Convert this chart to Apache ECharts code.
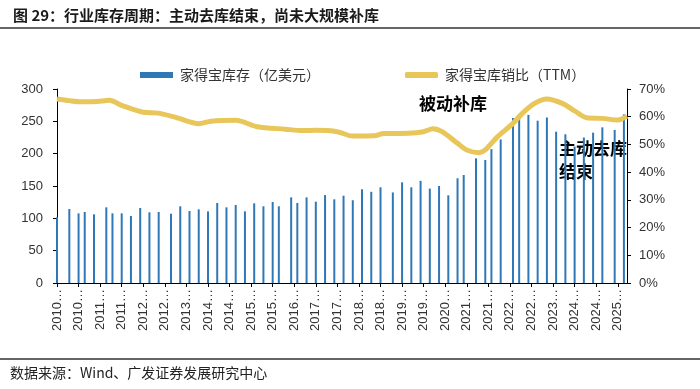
<!DOCTYPE html>
<html>
<head>
<meta charset="utf-8">
<script src="https://cdn.jsdelivr.net/npm/echarts@6/dist/echarts.min.js"></script>
<style>
html,body{margin:0;padding:0;background:#fff;}
#c{width:700px;height:389px;}
</style>
</head>
<body>
<div id="c"></div>
<script>
// Monthly category axis: 2010-01 .. 2025-06
var startYear = 2010, endYear = 2025, endMonth = 6;
var categories = [];
for (var y = startYear; y <= endYear; y++) {
  for (var m = 1; m <= 12; m++) {
    if (y === endYear && m > endMonth) break;
    categories.push(y + '-' + (m < 10 ? '0' + m : m));
  }
}

// Home Depot inventory (100M USD), report months
var invMonths = ['2010-01','2010-05','2010-08','2010-10','2011-01','2011-05','2011-07','2011-10',
  '2012-01','2012-04','2012-07','2012-10','2013-02','2013-05','2013-08','2013-11',
  '2014-02','2014-05','2014-08','2014-11','2015-02','2015-05','2015-08','2015-11',
  '2016-01','2016-05','2016-07','2016-10','2017-01','2017-04','2017-07','2017-10',
  '2018-01','2018-04','2018-07','2018-10','2019-02','2019-05','2019-08','2019-11',
  '2020-02','2020-05','2020-08','2020-11','2021-01','2021-05','2021-08','2021-10',
  '2022-01','2022-05','2022-07','2022-10','2023-01','2023-04','2023-07','2023-10',
  '2024-01','2024-04','2024-07','2024-10','2025-02','2025-05'];
var invValues = [101.5,114.4,107.7,109.8,106.2,117,107.7,107.7,
  103.6,116,109.3,109.8,107.2,118.6,111.3,113.9,
  110.8,123.7,117,120.6,110.8,123.2,118.6,125.3,
  118.6,132.5,123.7,132.5,125.8,136,129.4,135,
  128,145,141,148,140,155.7,148,158,
  146,150,135.6,162,167,192.8,190.2,207,
  222,255,258,260,251,256,234,230,
  211,225,232.5,240.7,236.6,260.8];

// Inventory-to-sales ratio (TTM), %
var ratioMonths = ['2010-01','2010-05','2010-09','2011-02','2011-06','2011-10','2012-05','2012-10',
  '2013-04','2013-11','2014-03','2014-11','2015-06','2016-03','2016-09','2017-01',
  '2017-08','2018-01','2018-08','2018-11','2019-07','2019-12','2020-03','2020-06',
  '2020-11','2021-02','2021-06','2021-08','2021-12','2022-05','2022-08','2022-12',
  '2023-04','2023-09','2024-01','2024-05','2024-10','2025-03','2025-06'];
var ratioValues = [66.4,65.8,65.4,65.5,65.9,64.1,61.6,61.3,
  59.6,57.5,58.4,58.7,56.4,55.5,55,55.1,
  54.6,53,53.1,53.9,54,54.6,55.7,54.6,
  50.4,48,47,48,52.8,57.6,61.2,64.8,
  66.4,64.8,62.1,59.6,59.4,58.8,60.2];

var leftTicks = {min: 0, max: 300, interval: 50};
var rightTicks = {min: 0, max: 70, interval: 10};

var titleText = '图 29：行业库存周期：主动去库结束，尚未大规模补库';
var sourceText = '数据来源：Wind、广发证券发展研究中心';
var seriesNames = ['家得宝库存（亿美元）', '家得宝库销比（TTM）'];

var invData = invMonths.map(function (c, i) { return [c, invValues[i]]; });
var ratioData = ratioMonths.map(function (c, i) { return [c, ratioValues[i]]; });

var FONT = "'Liberation Sans','Noto Sans CJK SC',sans-serif";
var CJK = "'Noto Sans CJK SC',sans-serif";

var chart = echarts.init(document.getElementById('c'), null, {renderer: 'canvas'});
chart.setOption({
  backgroundColor: '#fff',
  animation: false,
  title: {
    text: titleText,
    left: 8, top: 3,
    textStyle: {fontSize: 15, fontWeight: 'bold', color: '#1a1a1a', fontFamily: CJK}
  },
  legend: {
    left: 135, top: 63,
    itemWidth: 33, itemHeight: 6, itemGap: 85,
    textStyle: {fontSize: 14, color: '#333', fontFamily: CJK, padding: [0, 0, 0, 2]},
    data: [{name: seriesNames[0], icon: 'rect'}, {name: seriesNames[1], icon: 'roundRect'}]
  },
  grid: {left: 57, right: 73, top: 89, bottom: 106, containLabel: false},
  xAxis: {
    type: 'category',
    data: categories,
    boundaryGap: false,
    axisLine: {lineStyle: {color: '#000', width: 1}},
    axisTick: {interval: 6, length: 4, lineStyle: {color: '#000'}},
    axisLabel: {
      interval: 6, rotate: 90, margin: 6,
      fontSize: 13, color: '#333', fontFamily: FONT,
      formatter: function (v) { return v.slice(0, 4) + '…'; }
    },
    splitLine: {show: false}
  },
  yAxis: [{
    type: 'value', min: leftTicks.min, max: leftTicks.max, interval: leftTicks.interval,
    axisLine: {show: true, lineStyle: {color: '#000'}},
    axisTick: {show: true, length: 4, lineStyle: {color: '#000'}},
    axisLabel: {fontSize: 13, color: '#333', fontFamily: FONT, margin: 14},
    splitLine: {show: false}
  }, {
    type: 'value', min: rightTicks.min, max: rightTicks.max, interval: rightTicks.interval,
    position: 'right',
    axisLine: {show: true, lineStyle: {color: '#000'}},
    axisTick: {show: true, length: 4, lineStyle: {color: '#000'}},
    axisLabel: {fontSize: 13, color: '#333', fontFamily: FONT, margin: 12, formatter: '{value}%'},
    splitLine: {show: false}
  }],
  series: [{
    name: seriesNames[0],
    type: 'bar',
    yAxisIndex: 0,
    data: invData,
    barWidth: 2,
    itemStyle: {color: '#2F78B8'},
    z: 2
  }, {
    name: seriesNames[1],
    type: 'line',
    yAxisIndex: 1,
    data: ratioData,
    smooth: 0.3,
    symbol: 'none',
    lineStyle: {color: '#E8C65A', width: 5},
    itemStyle: {color: '#E8C65A'},
    z: 3
  }],
  graphic: [
    {type: 'line', shape: {x1: 0, y1: 28, x2: 700, y2: 28}, style: {stroke: '#333', lineWidth: 1.5}},
    {type: 'line', shape: {x1: 0, y1: 359, x2: 700, y2: 359}, style: {stroke: '#333', lineWidth: 1.5}},
    {type: 'text', left: 10, top: 366, style: {text: sourceText, font: "14px " + CJK, fill: '#222'}},
    {type: 'text', left: 419, top: 95, style: {text: '被动补库', font: "bold 17px " + CJK, fill: '#000'}},
    {type: 'text', left: 559, top: 140, style: {text: '主动去库', font: "bold 17px " + CJK, fill: '#000'}},
    {type: 'text', left: 559, top: 163, style: {text: '结束', font: "bold 17px " + CJK, fill: '#000'}}
  ]
});
</script>
</body>
</html>
